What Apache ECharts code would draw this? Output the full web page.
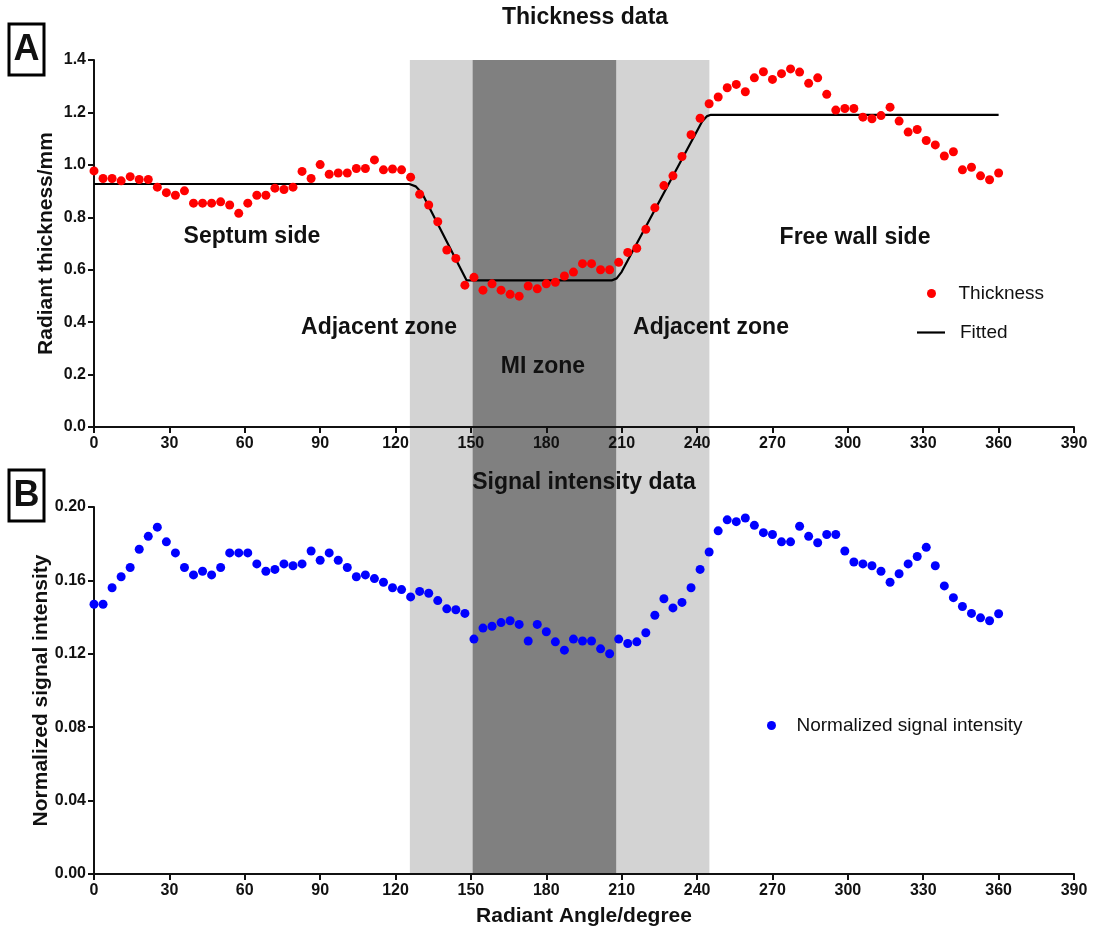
<!DOCTYPE html>
<html>
<head>
<meta charset="utf-8">
<script src="https://cdn.jsdelivr.net/npm/echarts@6/dist/echarts.min.js"></script>
<style>
  html, body { margin: 0; padding: 0; background: #fff; }
  #chart { width: 1097px; height: 933px; }
</style>
</head>
<body>
<div id="chart"></div>
<script>
// angle of each sample, degree
let angles = [0,3.6,7.2,10.8,14.4,18,21.6,25.2,28.8,32.4,36,39.6,43.2,46.8,50.4,54,57.6,61.2,64.8,68.4,
    72,75.6,79.2,82.8,86.4,90,93.6,97.2,100.8,104.4,108,111.6,115.2,118.8,122.4,126,129.6,133.2,136.8,140.4,
    144,147.6,151.2,154.8,158.4,162,165.6,169.2,172.8,176.4,180,183.6,187.2,190.8,194.4,198,201.6,205.2,208.8,212.4,
    216,219.6,223.2,226.8,230.4,234,237.6,241.2,244.8,248.4,252,255.6,259.2,262.8,266.4,270,273.6,277.2,280.8,284.4,
    288,291.6,295.2,298.8,302.4,306,309.6,313.2,316.8,320.4,324,327.6,331.2,334.8,338.4,342,345.6,349.2,352.8,356.4,360];

// radiant thickness, mm
let thickness = [0.977,0.948,0.948,0.939,0.955,0.944,0.944,0.915,0.894,0.884,
    0.901,0.854,0.854,0.854,0.859,0.847,0.815,0.854,0.884,0.884,
    0.911,0.906,0.915,0.975,0.948,1.001,0.964,0.969,0.969,0.986,
    0.986,1.019,0.981,0.984,0.981,0.953,0.888,0.847,0.783,0.675,
    0.643,0.541,0.571,0.522,0.546,0.522,0.506,0.499,0.538,0.527,
    0.546,0.552,0.576,0.591,0.623,0.623,0.600,0.600,0.628,0.666,
    0.682,0.754,0.836,0.921,0.958,1.032,1.115,1.178,1.233,1.259,
    1.294,1.307,1.279,1.332,1.355,1.326,1.348,1.366,1.354,1.311,
    1.332,1.269,1.209,1.215,1.215,1.182,1.176,1.188,1.220,1.167,
    1.125,1.135,1.093,1.076,1.034,1.050,0.981,0.991,0.958,0.943,0.969];

// fitted curve
let fitAngles = [0,125.5,128,130.5,148.3,206,208,210,242,244,245.5,360];
let fitValues = [0.927,0.927,0.918,0.893,0.559,0.559,0.567,0.592,1.165,1.186,1.191,1.191];

// normalized signal intensity
let signal = [0.147,0.147,0.156,0.162,0.167,0.177,0.184,0.189,0.181,0.175,
    0.167,0.163,0.165,0.163,0.167,0.175,0.175,0.175,0.169,0.165,
    0.166,0.169,0.168,0.169,0.176,0.171,0.175,0.171,0.167,0.162,
    0.163,0.161,0.159,0.156,0.155,0.151,0.154,0.153,0.149,0.1445,
    0.144,0.142,0.128,0.134,0.135,0.137,0.138,0.136,0.127,0.136,
    0.132,0.1265,0.122,0.128,0.127,0.127,0.1227,0.120,0.128,0.1256,
    0.1265,0.1315,0.141,0.150,0.145,0.148,0.156,0.166,0.1755,0.187,
    0.193,0.192,0.194,0.190,0.186,0.185,0.181,0.181,0.1895,0.184,
    0.1805,0.185,0.185,0.176,0.170,0.169,0.168,0.165,0.159,0.1636,
    0.169,0.173,0.178,0.168,0.157,0.1506,0.1458,0.142,0.1396,0.138,0.1418];

// zones: adjacent (light) and MI (dark)
let adjacentZone = [125.7, 244.9];
let miZone = [150.7, 207.8];

let xTicks = {min: 0, max: 390, interval: 30};

let font = '"Liberation Sans", Arial, sans-serif';
let ink = '#111';

function pairs(xs, ys){
    let out = [];
    for(let i in xs){
        out.push([xs[i], ys[i]]);
    }
    return out;
}

function x_axis(gridIndex){
    return {
        type: 'value', gridIndex: gridIndex,
        min: xTicks.min, max: xTicks.max, interval: xTicks.interval,
        z: 5,
        axisLine: {show: true, lineStyle: {color: ink, width: 2}},
        axisTick: {show: true, length: 6, lineStyle: {color: ink, width: 2}},
        axisLabel: {color: ink, fontSize: 16, fontWeight: 'bold', fontFamily: font, margin: 9},
        splitLine: {show: false}
    };
}

function y_axis(gridIndex, max, interval, digits, name, gap){
    return {
        type: 'value', gridIndex: gridIndex,
        min: 0, max: max, interval: interval,
        z: 5,
        name: name, nameLocation: 'middle', nameGap: gap, nameRotate: 90,
        nameMoveOverlap: false,
        nameTextStyle: {color: ink, fontSize: 21, fontWeight: 'bold', fontFamily: font},
        axisLine: {show: true, lineStyle: {color: ink, width: 2}},
        axisTick: {show: true, length: 6, lineStyle: {color: ink, width: 2}},
        axisLabel: {color: ink, fontSize: 16, fontWeight: 'bold', fontFamily: font, margin: 8,
            formatter: v => v.toFixed(digits)},
        splitLine: {show: false}
    };
}

function legend_box(names, left, top, iconH, gap, icon){
    let data = names.map(n => icon ? {name: n, icon: icon} : n);
    return {
        orient: 'vertical', left: left, top: top, padding: 0,
        itemWidth: 28, itemHeight: iconH,
        data: data,
        textStyle: {color: ink, fontSize: 19, fontFamily: font, padding: [0, 0, 0, gap]}
    };
}

function label(text, x, y, size, weight){
    return {
        type: 'text', x: x, y: y, z: 20,
        style: {text: text, fill: ink, font: weight + ' ' + size + 'px ' + font,
            textAlign: 'center', textVerticalAlign: 'middle'}
    };
}

function letter_box(ch, x, y){
    return [
        {type: 'rect', z: 20, shape: {x: x, y: y, width: 35, height: 51},
            style: {fill: '#fff', stroke: '#000', lineWidth: 3}},
        label(ch, x + 17.5, y + 26, 36, 'bold')
    ];
}

let chart = echarts.init(document.getElementById('chart'), null, {renderer: 'canvas'});

let option = {
    animation: false,
    backgroundColor: '#fff',
    grid: [
        {left: 94, right: 23, top: 60, height: 367},
        {left: 94, right: 23, top: 507, height: 367},
        {left: 94, right: 23, top: 60, height: 814}
    ],
    xAxis: [
        x_axis(0),
        Object.assign(x_axis(1), {
            name: 'Radiant Angle/degree', nameLocation: 'middle', nameGap: 32,
            nameTextStyle: {color: ink, fontSize: 21, fontWeight: 'bold', fontFamily: font}
        }),
        {type: 'value', gridIndex: 2, min: 0, max: 390, show: false}
    ],
    yAxis: [
        y_axis(0, 1.4, 0.2, 1, 'Radiant thickness/mm', 37),
        y_axis(1, 0.2, 0.04, 2, 'Normalized signal intensity', 42),
        {type: 'value', gridIndex: 2, min: 0, max: 1, show: false}
    ],
    legend: [
        legend_box(['Thickness'], 927, 284, 9, 8),
        legend_box(['Fitted'], 917, 323, 2.2, 10, 'rect'),
        legend_box(['Normalized signal intensity'], 767, 716, 9, 6)
    ],
    series: [
        {
            name: 'zones', type: 'line', xAxisIndex: 2, yAxisIndex: 2, data: [], z: 1,
            markArea: {
                silent: true,
                data: [
                    [{xAxis: adjacentZone[0], itemStyle: {color: '#d3d3d3', opacity: 1}}, {xAxis: adjacentZone[1]}],
                    [{xAxis: miZone[0], itemStyle: {color: '#808080', opacity: 1}}, {xAxis: miZone[1]}]
                ]
            }
        },
        {
            name: 'Fitted', type: 'line', xAxisIndex: 0, yAxisIndex: 0, z: 6,
            symbol: 'none', lineStyle: {color: '#000', width: 2.2}, itemStyle: {color: '#000'},
            data: pairs(fitAngles, fitValues)
        },
        {
            name: 'Thickness', type: 'scatter', xAxisIndex: 0, yAxisIndex: 0, z: 7,
            symbol: 'circle', symbolSize: 9, itemStyle: {color: '#ff0000', opacity: 1},
            data: pairs(angles, thickness)
        },
        {
            name: 'Normalized signal intensity', type: 'scatter', xAxisIndex: 1, yAxisIndex: 1, z: 7,
            symbol: 'circle', symbolSize: 9, itemStyle: {color: '#0000ff', opacity: 1},
            data: pairs(angles, signal)
        }
    ],
    graphic: [
        label('Thickness data', 585, 18, 23, 'bold'),
        label('Signal intensity data', 584, 483, 23, 'bold'),
        label('Septum side', 252, 237, 23, 'bold'),
        label('Free wall side', 855, 238, 23, 'bold'),
        label('Adjacent zone', 379, 328, 23, 'bold'),
        label('Adjacent zone', 711, 328, 23, 'bold'),
        label('MI zone', 543, 367, 23, 'bold')
    ].concat(letter_box('A', 9, 24), letter_box('B', 9, 470))
};

chart.setOption(option);
</script>
</body>
</html>
